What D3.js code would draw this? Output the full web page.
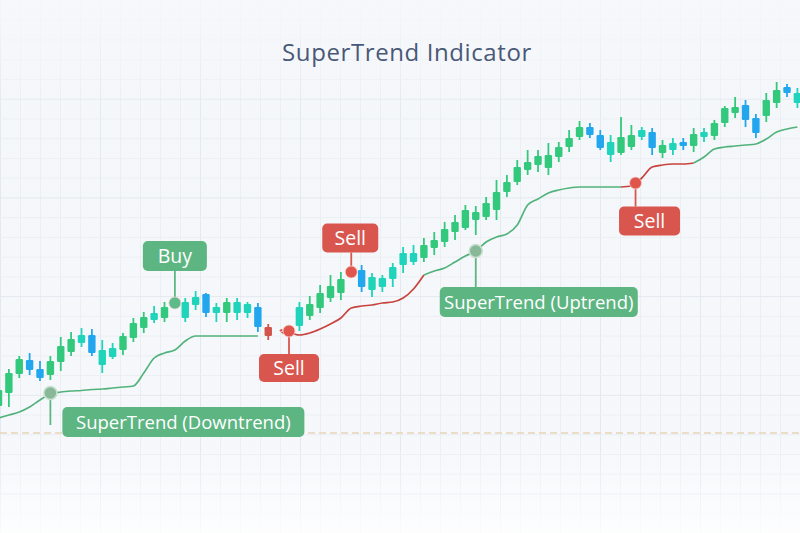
<!DOCTYPE html>
<html>
<head>
<meta charset="utf-8">
<script src="https://cdn.jsdelivr.net/npm/d3@7"></script>
<style>
  html, body { margin: 0; padding: 0; background: #ffffff; }
  svg { display: block; }
</style>
</head>
<body>
<svg id="chart" width="800" height="533"></svg>
<script>
// ---------------- DATA ----------------
const titleText = "SuperTrend Indicator";
// candle index 0..77 ; null = no candle (hidden behind a marker)
const opens  = [94,107,126,140,131,125,138,148,157,165,135,143,150,162,172,180,182,null,182,195,206,187,187,187,187,193,173,null,null,174,184,192,202,207,null,230,210,213,221,235,238,242,252,258,268,272,280,283,290,308,318,330,335,332,343,353,363,373,365,345,347,353,363,368,347,350,358,354,363,364,377,387,395,382,384,397,413,397];
const highs  = [116,131,144,147,139,144,163,168,172,171,160,157,167,182,188,194,198,null,202,209,207,197,202,202,198,197,176,null,null,198,204,215,225,228,null,235,227,225,237,253,255,262,268,278,285,295,294,303,320,325,340,350,350,357,358,370,379,377,370,365,383,375,373,372,360,362,362,372,372,380,394,403,400,386,407,418,416,412];
const lows   = [88,93,122,125,119,120,129,144,153,144,127,141,145,158,167,177,178,null,178,190,183,178,178,180,182,168,160,null,null,169,180,187,198,200,null,208,203,208,213,227,235,238,245,253,260,270,265,280,280,303,315,325,328,325,338,348,360,362,350,338,345,350,360,345,342,345,350,348,358,360,373,382,373,362,378,392,403,392];
const closes = [110,127,141,130,122,139,154,161,165,147,150,152,164,177,183,187,193,null,198,203,187,193,198,198,196,173,164,null,null,193,196,207,214,221,null,213,223,222,233,247,247,255,260,271,278,290,288,297,308,318,333,338,344,345,353,362,373,365,352,358,363,365,370,352,355,357,354,366,368,377,392,393,380,367,400,410,407,407];
// candle tone: g = green, t = teal, b = blue, r = red
const tones  = ["g","g","g","b","b","g","g","g","t","b","t","t","g","g","g","t","g",null,"t","t","b","t","g","t","t","b","r",null,null,"t","g","g","g","g",null,"b","t","t","t","t","t","g","g","g","g","g","g","g","g","g","g","g","g","g","g","g","g","b","b","t","g","g","t","b","g","t","b","g","t","g","g","g","b","b","g","g","b","t"];
// SuperTrend line value per candle index
const superTrend = [82,85,88,93,100,106,108,109,109.5,110.5,111,112,113,114,127,142,147,150,159,164,164,164,164,164,164,164,null,null,168,165,167,171,176,182,192,194,195,197,198,202,211,225,229,232,238,244,249,258,263,266,275,295,301,307,310,312,313,313,313,313,313,314,322,333,335,336,336,337,343,351,353,354,355,356,361,368,371,373];
// trend state per index: u = uptrend colour (green), d = downtrend colour (red)
const trendState = ["u","u","u","u","u","u","u","u","u","u","u","u","u","u","u","u","u","u","u","u","u","u","u","u","u","u",null,null,"d","d","d","d","d","d","d","d","d","d","d","d","d","d","u","u","u","u","u","u","u","u","u","u","u","u","u","u","u","u","u","u","u","d","d","d","d","d","d","d","u","u","u","u","u","u","u","u","u","u"];
// signal markers
const signalIndex = [17, 28, 34, 61.4, 46, 5];
const signalPrice = [197, 169, 228, 317, 249, 107];
const signalType  = ["buy", "sell", "sell", "sell", "trend", "trend"];
const signalText  = ["Buy", "Sell", "Sell", "Sell", "SuperTrend (Uptrend)", "SuperTrend (Downtrend)"];
const baseLevel = 67;

// ---------------- LAYOUT / STYLE ----------------
const W = 800, H = 533;
const svg = d3.select("#chart");
const x = d3.scaleLinear().domain([0, 77]).range([-1.5, 797.4]);
const y = d3.scaleLinear().domain([0, 500]).range([500, 0]);

const toneColor = { g: "#33c97d", t: "#1fd4bb", b: "#22a6ee", r: "#d2544c" };
const lineColor = { u: "#52b27c", d: "#c8433d" };
const font = "'Open Sans', 'DejaVu Sans', sans-serif";

const defs = svg.append("defs");
const bg = defs.append("linearGradient").attr("id", "bg").attr("x1", 0).attr("y1", 0).attr("x2", 0).attr("y2", 1);
bg.append("stop").attr("offset", "0%").attr("stop-color", "#f4f7fa");
bg.append("stop").attr("offset", "100%").attr("stop-color", "#f6f8fb");
const fade = defs.append("linearGradient").attr("id", "fade").attr("x1", 0).attr("y1", 0).attr("x2", 0).attr("y2", 1);
fade.append("stop").attr("offset", "0%").attr("stop-color", "#ffffff").attr("stop-opacity", 0);
fade.append("stop").attr("offset", "100%").attr("stop-color", "#ffffff").attr("stop-opacity", 0.8);
const topFade = defs.append("linearGradient").attr("id", "topfade").attr("x1", 0).attr("y1", 0).attr("x2", 0).attr("y2", 1);
topFade.append("stop").attr("offset", "0%").attr("stop-color", "#f6f8fb").attr("stop-opacity", 0.9);
topFade.append("stop").attr("offset", "100%").attr("stop-color", "#f6f8fb").attr("stop-opacity", 0);

svg.append("rect").attr("width", W).attr("height", H).attr("fill", "url(#bg)");

// grid
const gx = d3.scaleLinear().domain([0, 40]).range([0, W]);
const gy = d3.scaleLinear().domain([0, 27]).range([0, H]);
const grid = svg.append("g");
grid.selectAll(".vx").data(d3.range(0, 41)).join("line")
  .attr("x1", d => gx(d) + 0.5).attr("x2", d => gx(d) + 0.5)
  .attr("y1", 0).attr("y2", H)
  .attr("stroke", d => d % 5 === 0 ? "#e3e9f0" : "#ebeff4").attr("stroke-width", 1);
grid.selectAll(".hy").data(d3.range(1, 28)).join("line")
  .attr("y1", d => gy(d) + 0.5).attr("y2", d => gy(d) + 0.5)
  .attr("x1", 0).attr("x2", W)
  .attr("stroke", d => d % 5 === 0 ? "#e3e9f0" : "#ebeff4").attr("stroke-width", 1);
svg.append("rect").attr("x", 0).attr("y", 0).attr("width", W).attr("height", 110).attr("fill", "url(#topfade)");

// dashed base level
svg.append("line")
  .attr("x1", 0).attr("x2", W).attr("y1", y(baseLevel)).attr("y2", y(baseLevel))
  .attr("stroke", "#e8d3b8").attr("stroke-width", 1.3).attr("stroke-dasharray", "7,4");

svg.append("rect").attr("x", 0).attr("y", 445).attr("width", W).attr("height", H - 445).attr("fill", "url(#fade)");

// title
svg.append("text")
  .attr("x", 407).attr("y", 61).attr("text-anchor", "middle")
  .attr("font-family", font).attr("font-size", 24).attr("letter-spacing", 0.6)
  .attr("fill", "#4a5877")
  .text(titleText);

// ---------------- CANDLES ----------------
const candles = d3.range(opens.length).map(i => ({
  i, o: opens[i], h: highs[i], l: lows[i], c: closes[i], tone: tones[i]
})).filter(d => d.o !== null);

const cg = svg.append("g");
cg.selectAll(".wick").data(candles).join("line")
  .attr("x1", d => x(d.i)).attr("x2", d => x(d.i))
  .attr("y1", d => y(d.h)).attr("y2", d => y(d.l))
  .attr("stroke", d => toneColor[d.tone]).attr("stroke-width", 1.8);
const bw = 7.4;
cg.selectAll(".body").data(candles).join("rect")
  .attr("x", d => x(d.i) - bw / 2).attr("width", bw)
  .attr("y", d => y(Math.max(d.o, d.c)))
  .attr("height", d => Math.max(3, Math.abs(y(d.o) - y(d.c))))
  .attr("rx", 1.2)
  .attr("fill", d => toneColor[d.tone]);

// ---------------- SUPERTREND LINE ----------------
const pts = superTrend.map((v, i) => ({ i, v, s: trendState[i] }));
const runs = [];
let cur = null;
pts.forEach(p => {
  if (p.v === null) { cur = null; return; }
  if (!cur || cur.s !== p.s) {
    const prev = cur ? cur.pts[cur.pts.length - 1] : null;
    cur = { s: p.s, pts: prev ? [prev] : [] };
    runs.push(cur);
  }
  cur.pts.push(p);
});
const lineGen = d3.line().x(d => x(d.i)).y(d => y(d.v)).curve(d3.curveMonotoneX);
svg.append("g").selectAll("path").data(runs).join("path")
  .attr("d", d => lineGen(d.pts))
  .attr("fill", "none").attr("stroke", d => lineColor[d.s]).attr("stroke-width", 1.7);

// small dashed chevron between red candle and the first sell dot
{
  const ax = x(27.3), ay = y(signalPrice[1]);
  svg.append("path")
    .attr("d", `M${ax + 5},${ay - 4} L${ax - 2},${ay} L${ax + 5},${ay + 4}`)
    .attr("fill", "none").attr("stroke", "#d2544c").attr("stroke-width", 1.6)
    .attr("stroke-dasharray", "3,2");
}

// ---------------- SIGNALS ----------------
// label layout: box centre offsets from the dot, box size
const labelLayout = [
  { dx: 0,   dy: -47, w: 64,  h: 30 },
  { dx: 0,   dy: 37,  w: 60,  h: 28 },
  { dx: -1,  dy: -34, w: 56,  h: 29 },
  { dx: 14,  dy: 38,  w: 61,  h: 29 },
  { dx: 63,  dy: 51,  w: 198, h: 30 },
  { dx: 133, dy: 29,  w: 242, h: 30 }
];
const boxFill = { buy: "#5db682", sell: "#d9564e", trend: "#5db582" };
const dotFill = { buy: "#5dbb8a", sell: "#e0564c", trend: "#88b897" };
const sg = svg.append("g");
signalIndex.forEach((si, k) => {
  const px = x(si), py = y(signalPrice[k]);
  const L = labelLayout[k], t = signalType[k];
  const cx = px + L.dx, cy = py + L.dy;
  let y1, y2;
  if (L.dy < 0) { y1 = py; y2 = cy + L.h / 2; }
  else { y1 = py; y2 = (k === 5) ? py + 32 : cy - L.h / 2; }
  sg.append("line").attr("x1", px).attr("x2", px).attr("y1", y1).attr("y2", y2)
    .attr("stroke", t === "sell" ? "#d9564e" : "#5db582").attr("stroke-width", 1.8);
  sg.append("rect")
    .attr("x", cx - L.w / 2).attr("y", cy - L.h / 2).attr("width", L.w).attr("height", L.h)
    .attr("rx", 5).attr("fill", boxFill[t]);
  sg.append("text")
    .attr("x", cx).attr("y", cy + 6.5).attr("text-anchor", "middle")
    .attr("font-family", font).attr("font-size", t === "trend" ? 18.5 : 19.5)
    .attr("fill", "#ffffff").text(signalText[k]);
  sg.append("circle").attr("cx", px).attr("cy", py).attr("r", t === "trend" ? 6.5 : 6)
    .attr("fill", dotFill[t]).attr("stroke", t === "trend" ? "#c9e0d0" : "#f6d0cb")
    .attr("stroke-width", t === "trend" ? 1.5 : 0.8);
});
</script>
</body>
</html>
